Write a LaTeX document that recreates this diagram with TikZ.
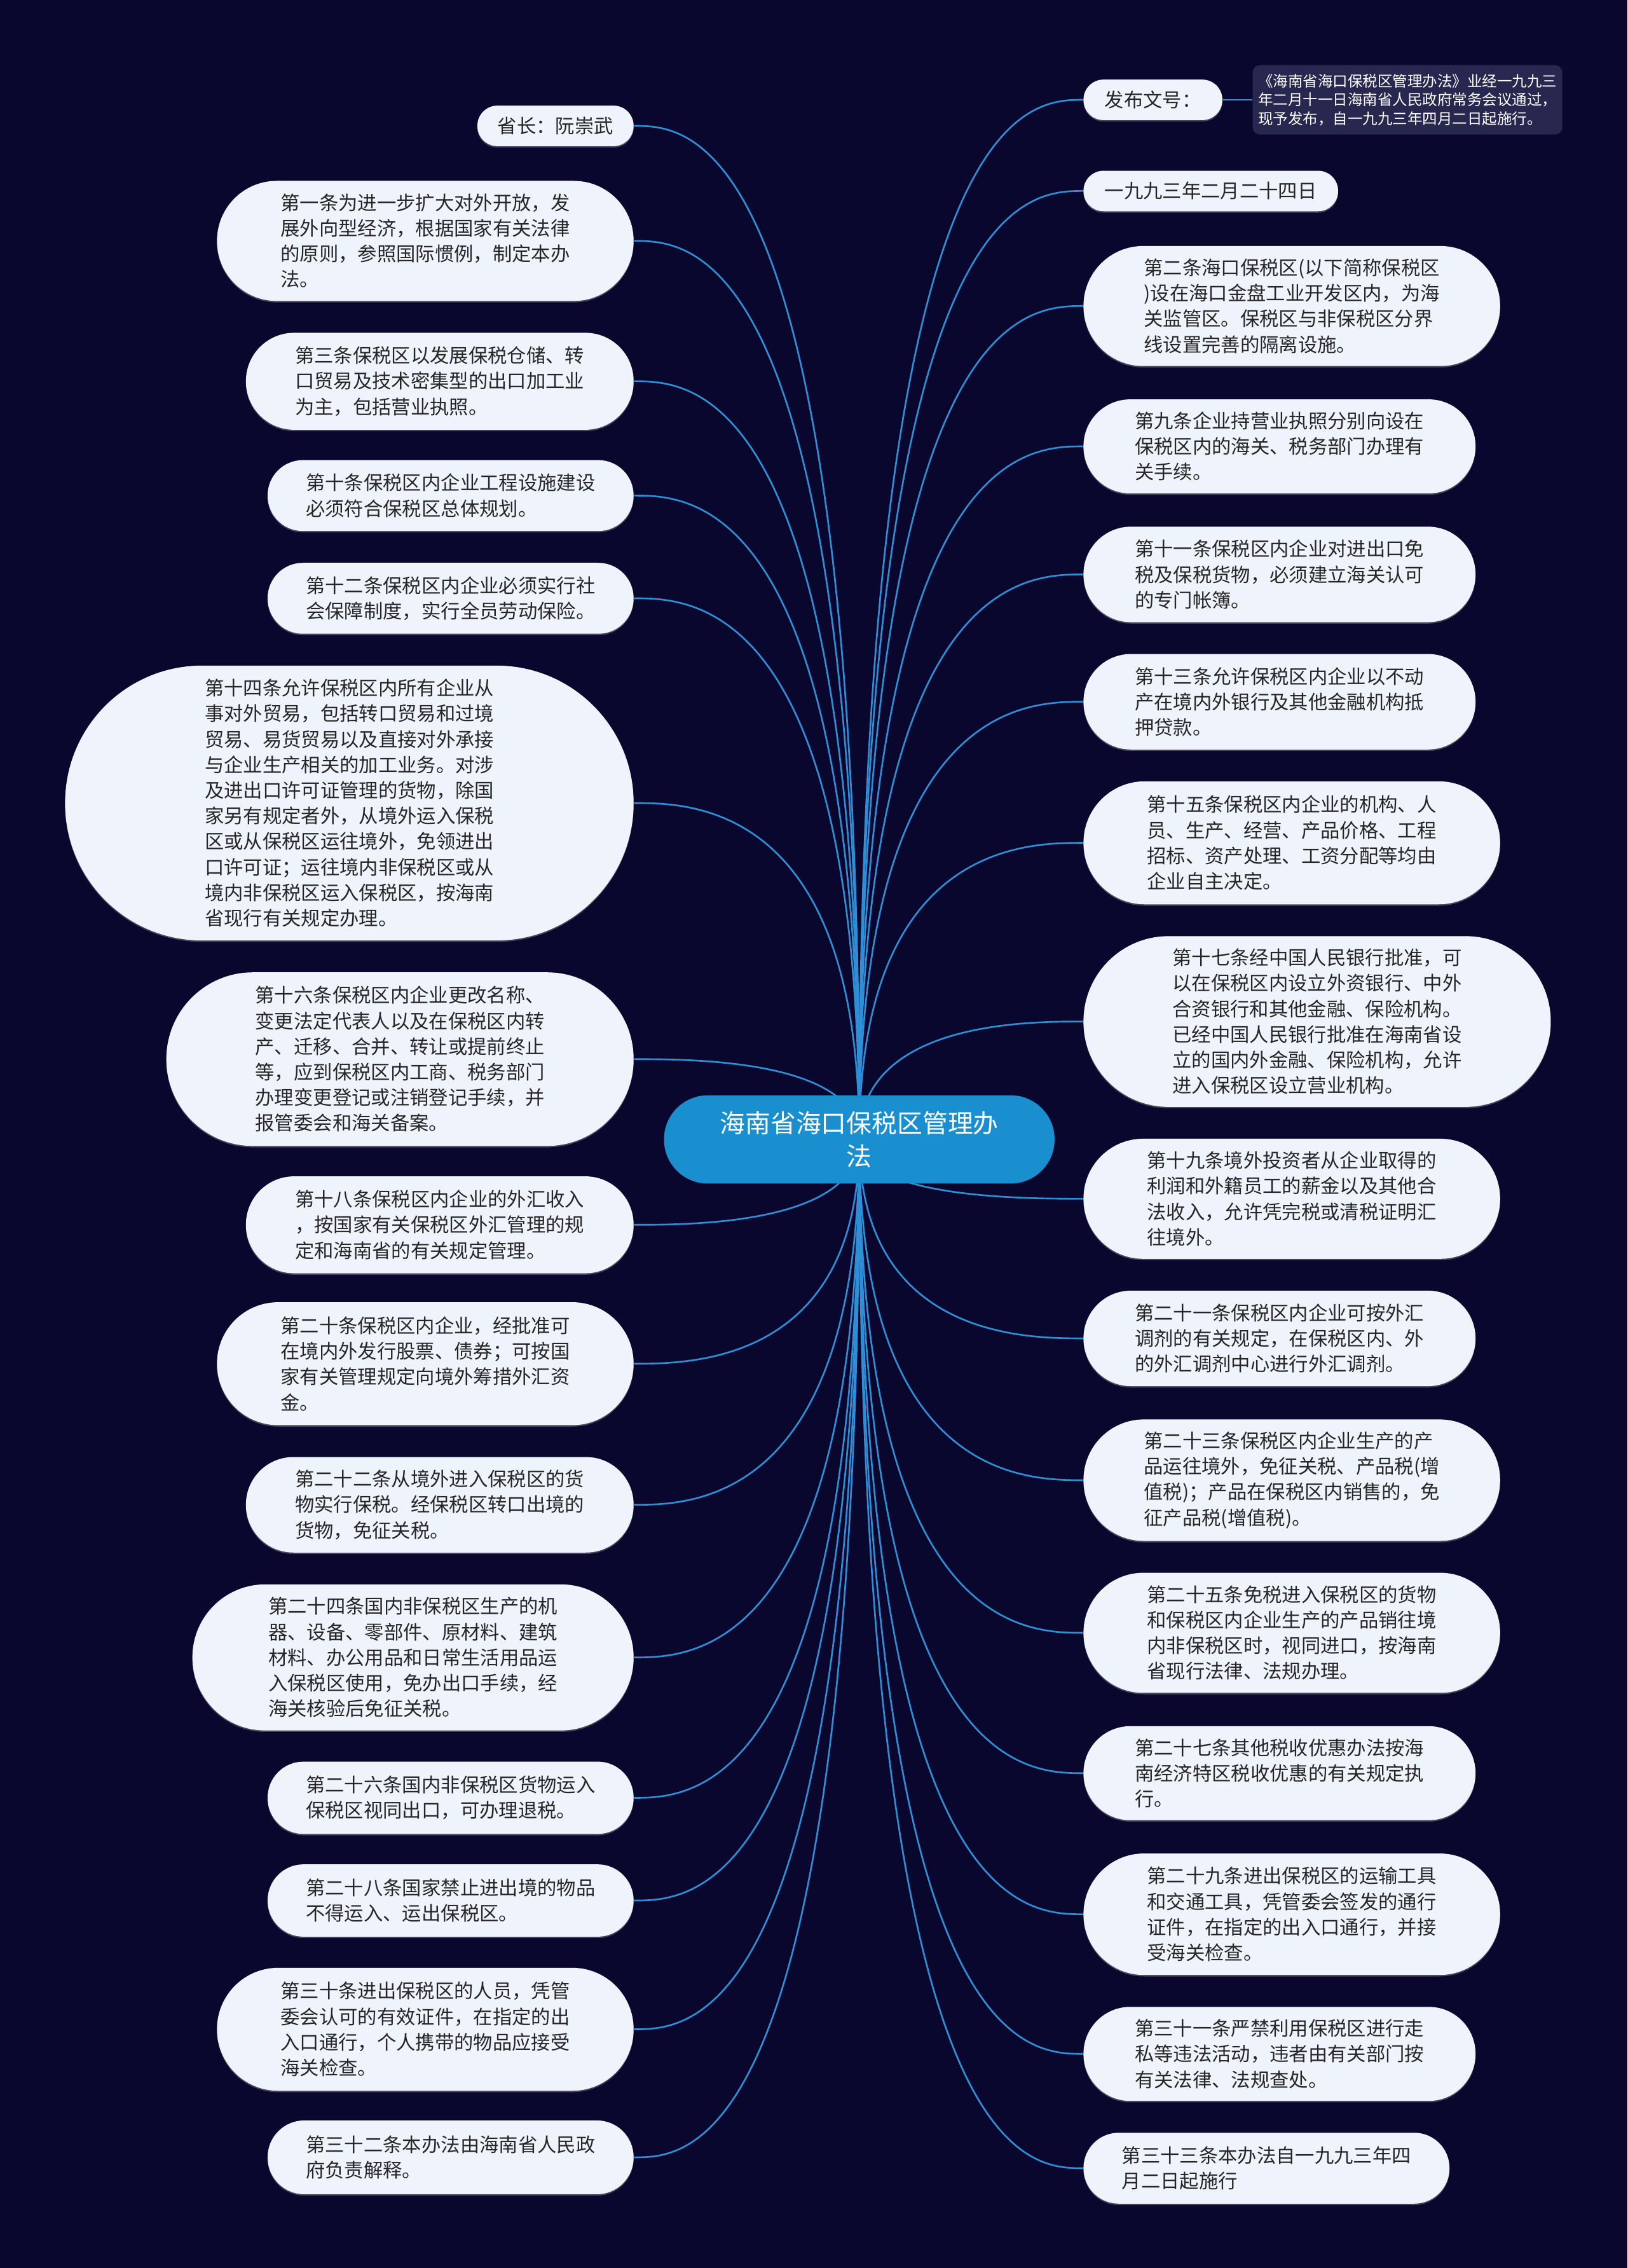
\documentclass[tikz,border=0pt]{standalone}
\usepackage{fontspec}
\setmainfont{Noto Sans CJK SC}
\usetikzlibrary{calc,shadows}
\definecolor{bgc}{HTML}{0A072E}
\definecolor{leaffill}{HTML}{EEF3FC}
\definecolor{linkc}{HTML}{2E8FD6}
\definecolor{rootfill}{HTML}{1A8FD0}
\definecolor{notefill}{HTML}{28274F}
\definecolor{txtc}{HTML}{262626}
\pgfdeclarelayer{bglayer}
\pgfsetlayers{bglayer,main}
\tikzset{
  leaf/.style={fill=leaffill, text=txtc, font=\fontsize{8}{10.6}\selectfont, align=left, inner sep=0pt,
    drop shadow={shadow xshift=0pt, shadow yshift=-0.6pt, fill=gray, opacity=0.5}},
  rootnode/.style={fill=rootfill, text=white, font=\fontsize{10.5}{13.8}\selectfont, align=center, inner sep=0pt},
  notebox/.style={fill=notefill, text=white, font=\fontsize{6.2}{7.8}\selectfont, align=left, inner sep=0pt, rounded corners=3pt},
  link/.style={draw=linkc, line width=0.7pt},
}
\begin{document}
\begin{tikzpicture}[x=0.6pt, y=-0.6pt]
\useasboundingbox (0,0) rectangle (1125,1567.5);
\begin{pgfonlayer}{bglayer}
\fill[bgc] (0,0) rectangle (1125,1567.5);
\end{pgfonlayer}

% root
\node[rootnode, minimum width=162pt, minimum height=36.6pt, rounded corners=18.2pt] (root) at (594,787.5) {海南省海口保税区管理办\\法};

% left nodes
\node[leaf, minimum width=64.8pt, minimum height=16.8pt, rounded corners=8.3pt] (L1) at (384,87) {省长：阮崇武};
\node[leaf, minimum width=172.8pt, minimum height=49.8pt, rounded corners=24.8pt] (L2) at (294,166.5) {第一条为进一步扩大对外开放，发\\展外向型经济，根据国家有关法律\\的原则，参照国际惯例，制定本办\\法。};
\node[leaf, minimum width=160.8pt, minimum height=40.2pt, rounded corners=20pt] (L3) at (304,263.5) {第三条保税区以发展保税仓储、转\\口贸易及技术密集型的出口加工业\\为主，包括营业执照。};
\node[leaf, minimum width=151.8pt, minimum height=29.4pt, rounded corners=14.6pt] (L4) at (311.5,342.5) {第十条保税区内企业工程设施建设\\必须符合保税区总体规划。};
\node[leaf, minimum width=151.8pt, minimum height=29.4pt, rounded corners=14.6pt] (L5) at (311.5,413.5) {第十二条保税区内企业必须实行社\\会保障制度，实行全员劳动保险。};
\node[leaf, minimum width=235.8pt, minimum height=114pt, rounded corners=56.9pt] (L6) at (241.5,555) {第十四条允许保税区内所有企业从\\事对外贸易，包括转口贸易和过境\\贸易、易货贸易以及直接对外承接\\与企业生产相关的加工业务。对涉\\及进出口许可证管理的货物，除国\\家另有规定者外，从境外运入保税\\区或从保税区运往境外，免领进出\\口许可证；运往境内非保税区或从\\境内非保税区运入保税区，按海南\\省现行有关规定办理。};
\node[leaf, minimum width=193.8pt, minimum height=72pt, rounded corners=35.9pt] (L7) at (276.5,732) {第十六条保税区内企业更改名称、\\变更法定代表人以及在保税区内转\\产、迁移、合并、转让或提前终止\\等，应到保税区内工商、税务部门\\办理变更登记或注销登记手续，并\\报管委会和海关备案。};
\node[leaf, minimum width=160.8pt, minimum height=40.2pt, rounded corners=20pt] (L8) at (304,846.5) {第十八条保税区内企业的外汇收入\\，按国家有关保税区外汇管理的规\\定和海南省的有关规定管理。};
\node[leaf, minimum width=172.8pt, minimum height=51pt, rounded corners=25.4pt] (L9) at (294,942.5) {第二十条保税区内企业，经批准可\\在境内外发行股票、债券；可按国\\家有关管理规定向境外筹措外汇资\\金。};
\node[leaf, minimum width=160.8pt, minimum height=39.6pt, rounded corners=19.7pt] (L10) at (304,1040) {第二十二条从境外进入保税区的货\\物实行保税。经保税区转口出境的\\货物，免征关税。};
\node[leaf, minimum width=183pt, minimum height=60.6pt, rounded corners=30.2pt] (L11) at (285.5,1145.5) {第二十四条国内非保税区生产的机\\器、设备、零部件、原材料、建筑\\材料、办公用品和日常生活用品运\\入保税区使用，免办出口手续，经\\海关核验后免征关税。};
\node[leaf, minimum width=151.8pt, minimum height=30pt, rounded corners=14.9pt] (L12) at (311.5,1242.5) {第二十六条国内非保税区货物运入\\保税区视同出口，可办理退税。};
\node[leaf, minimum width=151.8pt, minimum height=30pt, rounded corners=14.9pt] (L13) at (311.5,1313.5) {第二十八条国家禁止进出境的物品\\不得运入、运出保税区。};
\node[leaf, minimum width=172.8pt, minimum height=51pt, rounded corners=25.4pt] (L14) at (294,1402.5) {第三十条进出保税区的人员，凭管\\委会认可的有效证件，在指定的出\\入口通行，个人携带的物品应接受\\海关检查。};
\node[leaf, minimum width=151.8pt, minimum height=30.6pt, rounded corners=15.2pt] (L15) at (311.5,1491) {第三十二条本办法由海南省人民政\\府负责解释。};

% right nodes
\node[leaf, minimum width=57.6pt, minimum height=16.8pt, rounded corners=8.3pt] (R1) at (797,69) {发布文号：};
\node[notebox, minimum width=128.4pt, minimum height=28.8pt] (note) at (973,69) {《海南省海口保税区管理办法》业经一九九三\\年二月十一日海南省人民政府常务会议通过，\\现予发布，自一九九三年四月二日起施行。};
\node[leaf, minimum width=105.6pt, minimum height=16.8pt, rounded corners=8.3pt] (R2) at (837,132) {一九九三年二月二十四日};
\node[leaf, minimum width=172.8pt, minimum height=49.8pt, rounded corners=24.8pt] (R3) at (893,211.5) {第二条海口保税区(以下简称保税区\\)设在海口金盘工业开发区内，为海\\关监管区。保税区与非保税区分界\\线设置完善的隔离设施。};
\node[leaf, minimum width=162.6pt, minimum height=39pt, rounded corners=19.4pt] (R4) at (884.5,308.5) {第九条企业持营业执照分别向设在\\保税区内的海关、税务部门办理有\\关手续。};
\node[leaf, minimum width=162.6pt, minimum height=39.6pt, rounded corners=19.7pt] (R5) at (884.5,397) {第十一条保税区内企业对进出口免\\税及保税货物，必须建立海关认可\\的专门帐簿。};
\node[leaf, minimum width=162.6pt, minimum height=39.6pt, rounded corners=19.7pt] (R6) at (884.5,485) {第十三条允许保税区内企业以不动\\产在境内外银行及其他金融机构抵\\押贷款。};
\node[leaf, minimum width=172.8pt, minimum height=51pt, rounded corners=25.4pt] (R7) at (893,582.5) {第十五条保税区内企业的机构、人\\员、生产、经营、产品价格、工程\\招标、资产处理、工资分配等均由\\企业自主决定。};
\node[leaf, minimum width=193.8pt, minimum height=70.8pt, rounded corners=35.3pt] (R8) at (910.5,706) {第十七条经中国人民银行批准，可\\以在保税区内设立外资银行、中外\\合资银行和其他金融、保险机构。\\已经中国人民银行批准在海南省设\\立的国内外金融、保险机构，允许\\进入保税区设立营业机构。};
\node[leaf, minimum width=172.8pt, minimum height=49.8pt, rounded corners=24.8pt] (R9) at (893,828.5) {第十九条境外投资者从企业取得的\\利润和外籍员工的薪金以及其他合\\法收入，允许凭完税或清税证明汇\\往境外。};
\node[leaf, minimum width=162.6pt, minimum height=39.6pt, rounded corners=19.7pt] (R10) at (884.5,925) {第二十一条保税区内企业可按外汇\\调剂的有关规定，在保税区内、外\\的外汇调剂中心进行外汇调剂。};
\node[leaf, minimum width=172.8pt, minimum height=50.4pt, rounded corners=25.1pt] (R11) at (893,1023) {第二十三条保税区内企业生产的产\\品运往境外，免征关税、产品税(增\\值税)；产品在保税区内销售的，免\\征产品税(增值税)。};
\node[leaf, minimum width=172.8pt, minimum height=49.8pt, rounded corners=24.8pt] (R12) at (893,1128.5) {第二十五条免税进入保税区的货物\\和保税区内企业生产的产品销往境\\内非保税区时，视同进口，按海南\\省现行法律、法规办理。};
\node[leaf, minimum width=162.6pt, minimum height=39pt, rounded corners=19.4pt] (R13) at (884.5,1225.5) {第二十七条其他税收优惠办法按海\\南经济特区税收优惠的有关规定执\\行。};
\node[leaf, minimum width=172.8pt, minimum height=50.4pt, rounded corners=25.1pt] (R14) at (893,1323) {第二十九条进出保税区的运输工具\\和交通工具，凭管委会签发的通行\\证件，在指定的出入口通行，并接\\受海关检查。};
\node[leaf, minimum width=162.6pt, minimum height=39pt, rounded corners=19.4pt] (R15) at (884.5,1419.5) {第三十一条严禁利用保税区进行走\\私等违法活动，违者由有关部门按\\有关法律、法规查处。};
\node[leaf, minimum width=151.8pt, minimum height=29.4pt, rounded corners=14.6pt] (R16) at (875.5,1498.5) {第三十三条本办法自一九九三年四\\月二日起施行};

% connectors
\begin{pgfonlayer}{bglayer}
\foreach \n in {L1,L2,L3,L4,L5,L6,L7,L8,L9,L10,L11,L12,L13,L14,L15}
  \draw[link] (root.center) .. controls (root.center |- \n.east) and ($(\n.east)!0.25!(root.center |- \n.east)$) .. (\n.east);
\foreach \n in {R1,R2,R3,R4,R5,R6,R7,R8,R9,R10,R11,R12,R13,R14,R15,R16}
  \draw[link] (root.center) .. controls (root.center |- \n.west) and ($(\n.west)!0.25!(root.center |- \n.west)$) .. (\n.west);
\draw[link] (R1.east) -- (note.west);
\end{pgfonlayer}
\end{tikzpicture}
\end{document}
